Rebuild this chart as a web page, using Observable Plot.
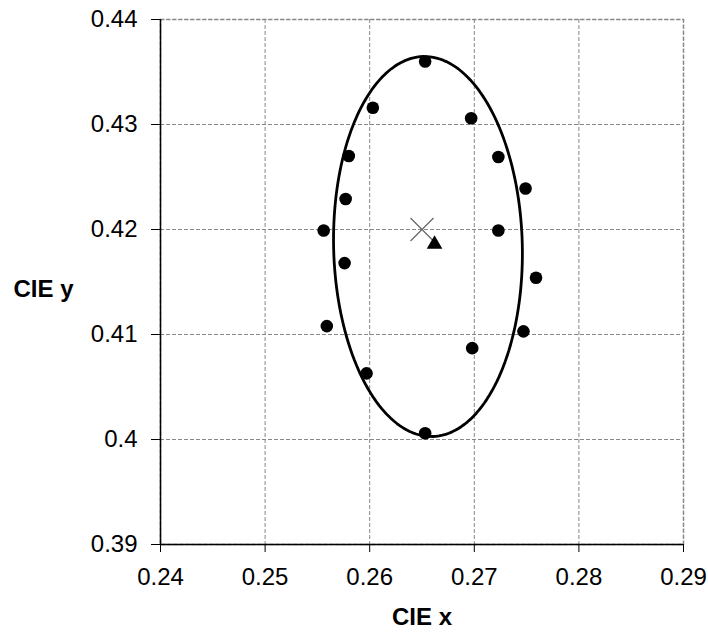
<!DOCTYPE html>
<html><head><meta charset="utf-8">
<script src="https://cdn.jsdelivr.net/npm/d3@7"></script>
<script src="https://cdn.jsdelivr.net/npm/@observablehq/plot@0.6"></script>
<style>body{margin:0;background:#fff}</style>
</head><body><div id="chart"></div>
<script>
// Measured chromaticity points (CIE x, CIE y)
const pointX = [0.2653, 0.2603, 0.2697, 0.2580, 0.2723, 0.2577, 0.2749, 0.2556,
                0.2723, 0.2576, 0.2759, 0.2559, 0.2747, 0.2698, 0.2597, 0.2653];
const pointY = [0.4360, 0.4316, 0.4306, 0.4270, 0.4269, 0.4229, 0.4239, 0.4199,
                0.4199, 0.4168, 0.4154, 0.4108, 0.4103, 0.4087, 0.4063, 0.4006];
// Target (cross) and mean (triangle)
const targetX = [0.265], targetY = [0.420];
const meanX = [0.2662], meanY = [0.4186];
// Fitted ellipse parameters
const ellipseCenter = [0.26557, 0.41838];
const ellipseSemiMajor = 0.0181;
const ellipseSemiMinor = 0.00902;
const ellipseAngleDeg = 91.4;
// Axis ticks
const xTicks = [0.24, 0.25, 0.26, 0.27, 0.28, 0.29];
const xTickLabels = ["0.24", "0.25", "0.26", "0.27", "0.28", "0.29"];
const yTicks = [0.39, 0.40, 0.41, 0.42, 0.43, 0.44];
const yTickLabels = ["0.39", "0.4", "0.41", "0.42", "0.43", "0.44"];

const points = pointX.map((x, i) => ({x, y: pointY[i]}));
const th = ellipseAngleDeg * Math.PI / 180;
const ellipse = d3.range(0, 361, 2).map(deg => {
  const t = deg * Math.PI / 180;
  const a = ellipseSemiMajor * Math.cos(t), b = ellipseSemiMinor * Math.sin(t);
  return {x: ellipseCenter[0] + a * Math.cos(th) - b * Math.sin(th),
          y: ellipseCenter[1] + a * Math.sin(th) + b * Math.cos(th)};
});
const fmt = (ticks, labels) => v => labels[ticks.findIndex(t => Math.abs(t - v) < 1e-9)];

const chart = Plot.plot({
  width: 708, height: 639,
  marginLeft: 160, marginRight: 25, marginTop: 19, marginBottom: 95,
  style: {fontFamily: "'Liberation Sans', Arial, sans-serif", fontSize: "24px", color: "#000", background: "#fff"},
  x: {domain: [0.24, 0.29]},
  y: {domain: [0.39, 0.44]},
  marks: [
    Plot.gridX(xTicks, {stroke: "#888", strokeOpacity: 1, strokeDasharray: "4,2"}),
    Plot.gridY(yTicks, {stroke: "#888", strokeOpacity: 1, strokeDasharray: "4,2"}),
    Plot.frame({stroke: "#888", strokeWidth: 1.5, strokeDasharray: "4,2"}),
    Plot.ruleX([0.24], {stroke: "#000", strokeWidth: 1.5}),
    Plot.ruleY([0.39], {stroke: "#000", strokeWidth: 1.5}),
    Plot.axisX({ticks: xTicks, tickFormat: fmt(xTicks, xTickLabels), tickSize: 8, tickPadding: 15, label: null, stroke: "#000"}),
    Plot.axisY({ticks: yTicks, tickFormat: fmt(yTicks, yTickLabels), tickSize: 9, tickPadding: 14, label: null, stroke: "#000"}),
    Plot.line(ellipse, {x: "x", y: "y", stroke: "#000", strokeWidth: 2.8, curve: "linear"}),
    Plot.dot(points, {x: "x", y: "y", r: 6.3, fill: "#000", stroke: "none"}),
    Plot.dot(targetX.map((x, i) => ({x, y: targetY[i]})), {x: "x", y: "y", symbol: "times", r: 10.5, stroke: "#666", strokeWidth: 1.2}),
    Plot.dot(meanX.map((x, i) => ({x, y: meanY[i]})), {x: "x", y: "y", symbol: "triangle", r: 5.8, fill: "#000", stroke: "none"}),
    Plot.text(["CIE y"], {text: d => d, frameAnchor: "left", textAnchor: "start", dx: -147, dy: 7, fontWeight: "bold", fontSize: 24, fill: "#000"}),
    Plot.text(["CIE x"], {text: d => d, frameAnchor: "bottom", textAnchor: "middle", dy: 80, fontWeight: "bold", fontSize: 24, fill: "#000"})
  ]
});
document.getElementById("chart").appendChild(chart);
</script></body></html>
